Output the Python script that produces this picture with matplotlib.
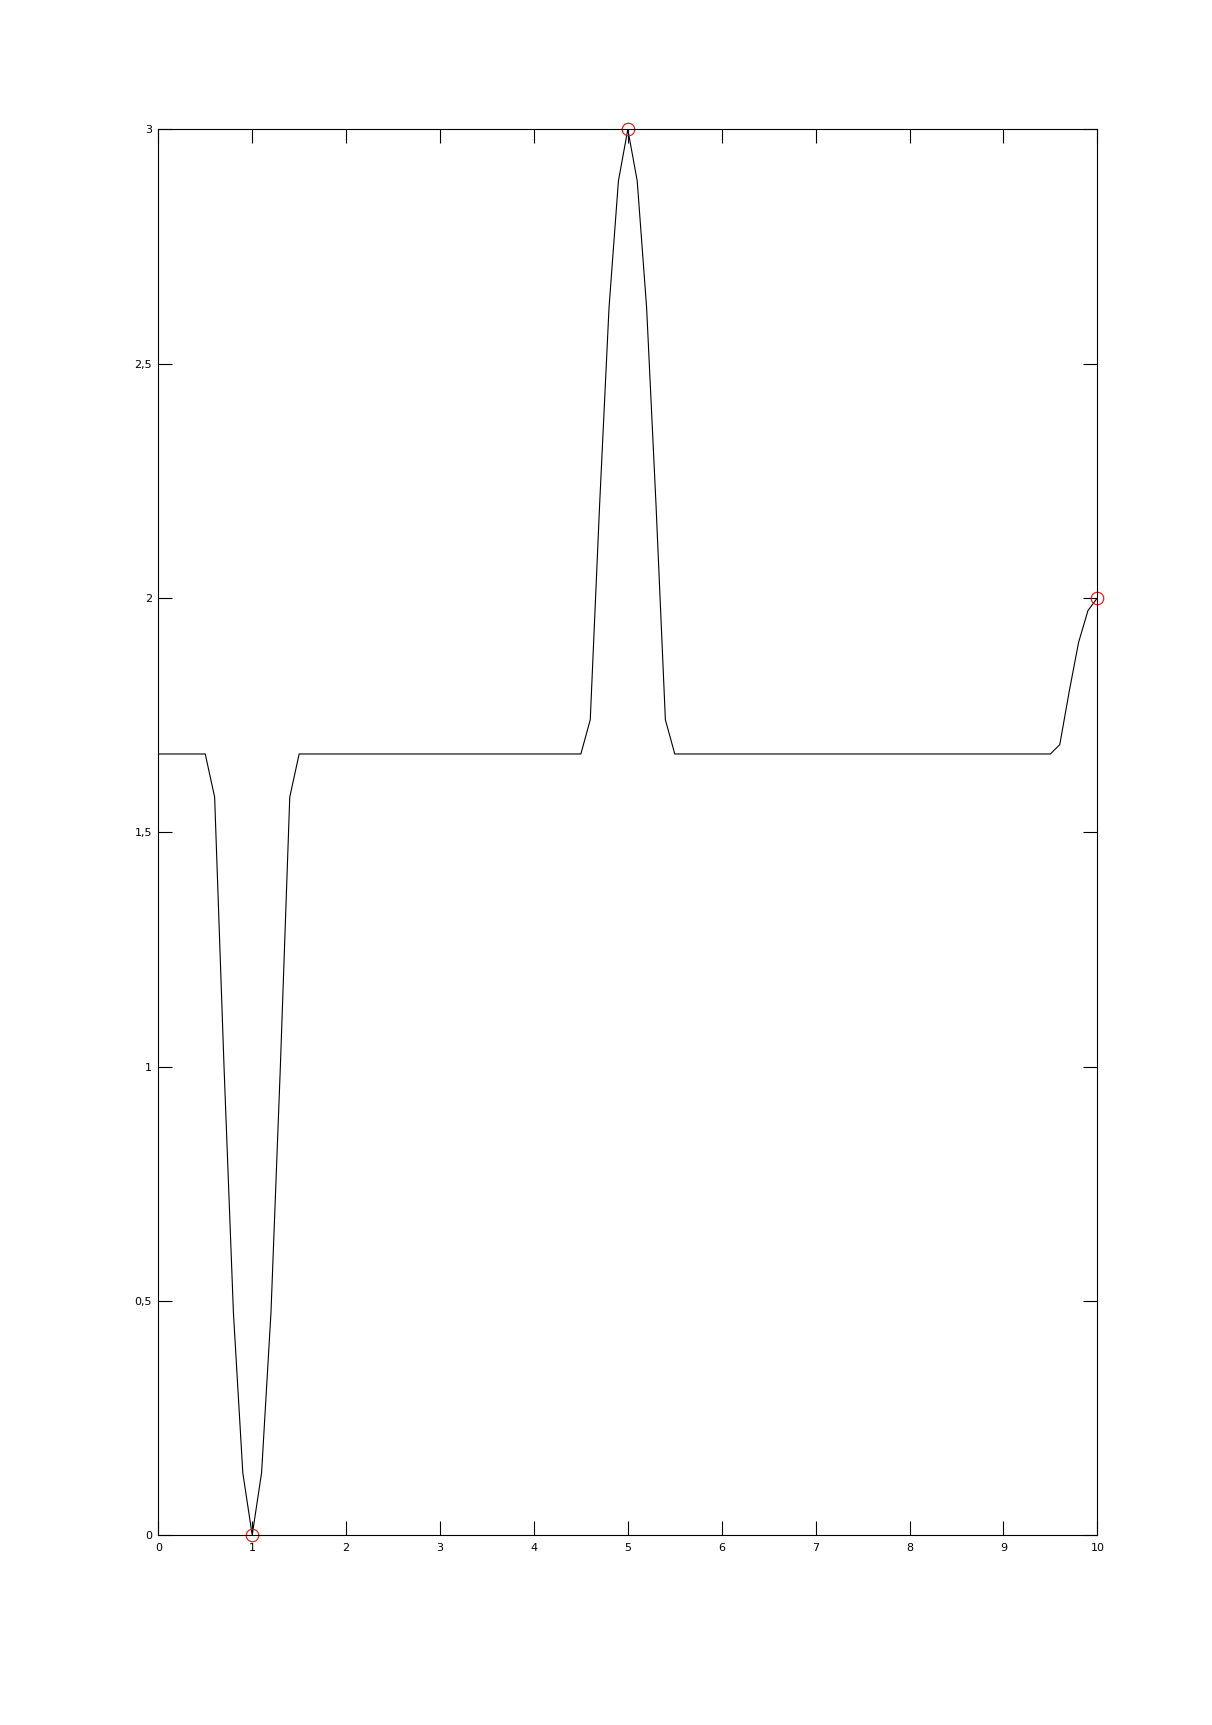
import matplotlib
matplotlib.use('Agg')
import matplotlib.pyplot as plt

# curve samples (flat parts between them are straight lines at 5/3)
x_vals = [0.0, 0.5, 0.6, 0.7, 0.8, 0.9, 1.0, 1.1, 1.2, 1.3, 1.4, 1.5,
          4.5, 4.6, 4.7, 4.8, 4.9, 5.0, 5.1, 5.2, 5.3, 5.4, 5.5,
          9.5, 9.6, 9.7, 9.8, 9.9, 10.0]
y_vals = [1.667, 1.667, 1.575, 1.0, 0.475, 0.133, 0.0, 0.133, 0.475, 1.0, 1.575, 1.667,
          1.667, 1.74, 2.2, 2.62, 2.89, 3.0, 2.89, 2.62, 2.2, 1.74, 1.667,
          1.667, 1.687, 1.80, 1.905, 1.973, 2.0]

# highlighted extrema
mark_x = [1.0, 5.0, 10.0]
mark_y = [0.0, 3.0, 2.0]

x_ticks = [0, 1, 2, 3, 4, 5, 6, 7, 8, 9, 10]
y_ticks = [0, 0.5, 1, 1.5, 2, 2.5, 3]
y_tick_labels = ['0', '0,5', '1', '1,5', '2', '2,5', '3']

fig = plt.figure(figsize=(12.12, 17.25), dpi=100)
ax = fig.add_axes([0.1306, 0.1101, 0.7748, 0.8149])

ax.plot(x_vals, y_vals, color='black', linewidth=0.8)
ax.plot(mark_x, mark_y, 'o', markerfacecolor='none', markeredgecolor='red',
        markersize=9, markeredgewidth=0.8, clip_on=False)

ax.set_xlim(0, 10)
ax.set_ylim(0, 3)
ax.set_xticks(x_ticks)
ax.set_xticklabels([str(t) for t in x_ticks])
ax.set_yticks(y_ticks)
ax.set_yticklabels(y_tick_labels)

ax.tick_params(direction='in', length=10, width=0.8, labelsize=8,
               top=True, right=True)
ax.tick_params(axis='x', pad=6)
ax.tick_params(axis='y', pad=4.5)
for sp in ax.spines.values():
    sp.set_linewidth(0.8)

fig.savefig('out.png', dpi=100, facecolor='white')
